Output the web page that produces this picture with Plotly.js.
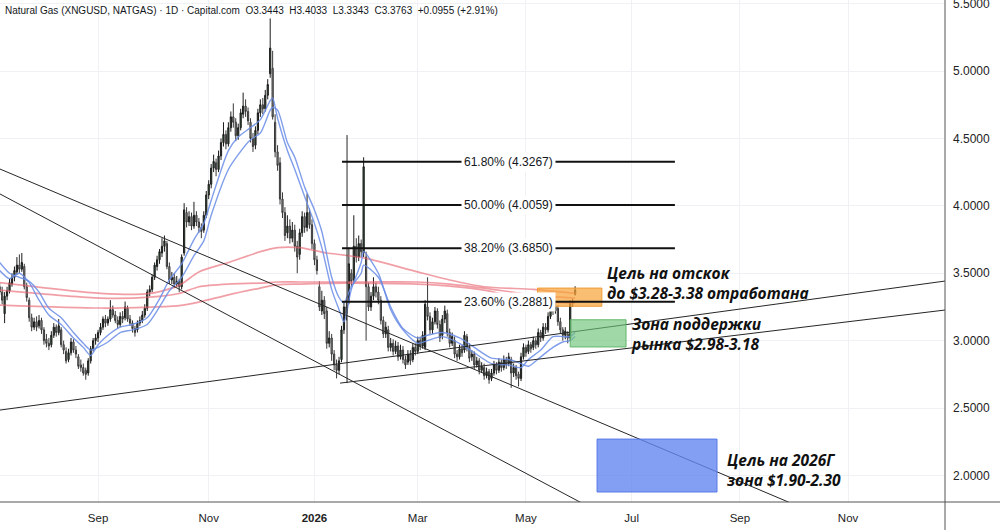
<!DOCTYPE html>
<html><head><meta charset="utf-8">
<script src="https://cdn.plot.ly/plotly-3.0.1.min.js"></script>
<style>html,body{margin:0;padding:0;background:#fff}#chart{width:1000px;height:530px}</style>
</head><body><div id="chart"></div>
<script>
// ---- data (daily candles, weekdays from startDate) ----
const startDate = '2025-07-07';
const openP = [
3.40,3.36,3.20,3.33,3.37,3.42,3.47,3.51,3.56,3.53,
3.55,3.40,3.30,3.17,3.10,3.14,3.11,3.15,3.08,3.01,
2.98,2.97,3.04,3.10,3.06,3.08,2.97,2.92,2.86,2.91,
2.99,2.93,2.88,2.82,2.80,2.78,2.76,2.85,2.94,3.00,
3.02,3.06,3.10,3.16,3.13,3.16,3.23,3.19,3.15,3.12,
3.18,3.17,3.24,3.16,3.13,3.09,3.08,3.13,3.15,3.19,
3.24,3.36,3.38,3.47,3.55,3.60,3.65,3.70,3.72,3.55,
3.45,3.47,3.42,3.44,3.40,3.65,3.95,3.88,3.92,3.85,
3.93,3.88,3.84,3.82,3.93,4.08,4.16,4.28,4.32,4.27,
4.37,4.47,4.53,4.46,4.58,4.66,4.62,4.52,4.58,4.68,
4.74,4.70,4.62,4.50,4.45,4.56,4.69,4.75,4.72,4.82,
4.98,5.02,4.62,4.40,4.32,4.05,3.95,3.80,3.85,3.76,
3.82,3.70,3.64,3.80,3.92,3.84,3.95,3.86,3.72,3.60,
3.40,3.22,3.30,3.22,2.98,3.02,2.90,2.82,2.78,2.86,
3.08,3.25,3.30,3.50,3.45,3.70,3.62,3.72,3.65,3.62,
3.40,3.25,3.33,3.40,3.36,3.30,3.15,3.05,3.08,2.95,
2.98,2.92,2.96,2.88,2.93,2.86,2.84,2.90,2.86,2.95,
2.92,3.00,2.96,2.95,3.25,3.18,3.08,3.14,3.22,3.12,
3.04,3.16,3.20,3.06,2.98,3.00,2.90,2.88,2.94,2.93,
3.03,2.95,2.88,2.90,2.82,2.85,2.78,2.80,2.74,2.77,
2.72,2.76,2.82,2.78,2.84,2.80,2.86,2.83,2.86,2.76,
2.80,2.75,2.72,2.88,2.95,2.92,2.97,2.95,3.00,2.97,
3.06,3.02,3.10,3.08,3.18,3.25,3.22,3.24,3.14,3.08,
3.04,3.05,3.02,3.28,3.3443];
const highP = [
3.43,3.40,3.36,3.40,3.46,3.50,3.55,3.62,3.64,3.65,
3.57,3.43,3.32,3.20,3.17,3.18,3.19,3.17,3.10,3.05,
3.02,3.07,3.13,3.12,3.16,3.10,3.00,2.95,2.94,3.02,
3.01,2.96,2.90,2.86,2.83,2.80,2.87,2.96,3.02,3.05,
3.08,3.13,3.18,3.19,3.18,3.30,3.26,3.22,3.18,3.21,
3.22,3.29,3.26,3.19,3.15,3.11,3.15,3.18,3.22,3.27,
3.38,3.41,3.49,3.58,3.63,3.68,3.76,3.78,3.74,3.58,
3.51,3.50,3.48,3.46,3.64,4.02,3.99,3.96,3.95,4.03,
3.96,3.91,3.87,3.96,4.11,4.19,4.31,4.38,4.35,4.41,
4.50,4.62,4.56,4.62,4.70,4.76,4.65,4.61,4.72,4.84,
4.79,4.73,4.65,4.54,4.59,4.72,4.79,4.80,4.86,4.94,
5.39,5.15,4.68,4.45,4.36,4.10,3.99,3.93,3.90,3.88,
3.86,3.74,3.83,3.96,3.95,4.09,3.98,3.90,3.75,3.63,
3.44,3.37,3.33,3.25,3.07,3.05,2.93,2.86,2.88,3.11,
3.28,3.30,3.69,3.53,3.93,3.76,3.78,3.75,4.36,3.66,
3.43,3.36,3.47,3.43,3.40,3.33,3.18,3.14,3.11,3.02,
3.01,3.00,2.99,2.97,2.96,2.89,2.93,2.93,2.98,2.98,
3.03,3.03,3.07,3.30,3.47,3.21,3.17,3.25,3.24,3.15,
3.19,3.26,3.23,3.09,3.06,3.03,2.93,2.97,2.97,3.07,
3.05,2.98,2.93,2.92,2.88,2.87,2.84,2.83,2.80,2.79,
2.79,2.85,2.84,2.87,2.86,2.89,2.88,2.91,2.88,2.83,
2.82,2.77,2.91,2.98,2.97,3.00,2.99,3.03,3.02,3.09,
3.08,3.13,3.13,3.21,3.28,3.29,3.29,3.26,3.17,3.10,
3.10,3.07,3.30,3.31,3.4033];
const lowP = [
3.34,3.27,3.13,3.30,3.35,3.40,3.44,3.49,3.50,3.51,
3.38,3.29,3.14,3.07,3.08,3.07,3.09,3.05,2.97,2.95,
2.93,2.95,3.02,3.03,3.04,2.95,2.90,2.83,2.84,2.89,
2.91,2.87,2.79,2.77,2.74,2.71,2.74,2.83,2.92,2.97,
2.99,3.04,3.08,3.10,3.11,3.14,3.17,3.13,3.09,3.10,
3.13,3.15,3.14,3.11,3.06,3.03,3.06,3.11,3.13,3.17,
3.22,3.33,3.36,3.45,3.52,3.57,3.62,3.66,3.53,3.42,
3.42,3.39,3.40,3.36,3.38,3.63,3.84,3.85,3.82,3.83,
3.85,3.80,3.76,3.80,3.91,4.05,4.13,4.25,4.22,4.25,
4.34,4.44,4.42,4.44,4.55,4.58,4.48,4.49,4.56,4.65,
4.66,4.60,4.47,4.40,4.42,4.53,4.66,4.68,4.70,4.79,
4.95,4.64,4.36,4.26,4.01,3.91,3.74,3.76,3.72,3.73,
3.66,3.50,3.60,3.77,3.80,3.81,3.83,3.68,3.56,3.49,
3.22,3.19,3.16,2.94,2.95,2.85,2.78,2.72,2.75,2.84,
3.05,3.15,3.27,3.40,3.42,3.58,3.59,3.62,3.62,3.00,
3.22,3.22,3.30,3.32,3.27,3.12,3.02,3.02,2.92,2.92,
2.89,2.90,2.85,2.86,2.83,2.79,2.82,2.82,2.84,2.89,
2.90,2.93,2.94,2.93,3.15,3.05,3.05,3.12,3.09,2.99,
3.01,3.13,3.03,2.95,2.96,2.87,2.85,2.86,2.88,2.91,
2.92,2.84,2.85,2.79,2.80,2.75,2.76,2.71,2.72,2.68,
2.70,2.74,2.75,2.76,2.77,2.78,2.79,2.81,2.65,2.73,
2.71,2.66,2.70,2.86,2.88,2.90,2.91,2.93,2.94,2.95,
2.99,3.00,3.05,3.06,3.16,3.19,3.20,3.11,3.05,3.00,
3.01,2.98,3.00,3.25,3.3343];
const closeP = [
3.36,3.30,3.33,3.37,3.43,3.47,3.52,3.56,3.53,3.58,
3.40,3.32,3.17,3.10,3.14,3.10,3.15,3.08,3.00,2.98,
2.96,3.04,3.10,3.06,3.11,2.97,2.93,2.85,2.91,2.99,
2.93,2.90,2.81,2.80,2.76,2.75,2.85,2.94,3.00,3.02,
3.06,3.10,3.16,3.13,3.16,3.23,3.19,3.15,3.12,3.18,
3.16,3.25,3.16,3.13,3.09,3.06,3.13,3.15,3.19,3.24,
3.36,3.38,3.47,3.56,3.60,3.66,3.70,3.74,3.55,3.45,
3.47,3.42,3.44,3.40,3.62,3.97,3.88,3.92,3.85,3.93,
3.88,3.84,3.81,3.93,4.08,4.16,4.28,4.33,4.27,4.37,
4.47,4.53,4.46,4.58,4.66,4.62,4.52,4.58,4.69,4.74,
4.70,4.63,4.50,4.44,4.56,4.69,4.75,4.72,4.82,4.90,
5.17,4.66,4.40,4.30,4.05,3.95,3.78,3.85,3.76,3.82,
3.70,3.62,3.80,3.92,3.84,3.95,3.86,3.72,3.60,3.52,
3.25,3.30,3.20,2.98,3.02,2.90,2.82,2.78,2.85,3.08,
3.25,3.20,3.57,3.44,3.70,3.62,3.72,3.66,4.29,3.40,
3.25,3.33,3.40,3.36,3.30,3.15,3.05,3.10,2.95,2.98,
2.92,2.96,2.88,2.93,2.86,2.82,2.90,2.85,2.95,2.92,
3.00,2.96,3.04,3.27,3.18,3.08,3.14,3.22,3.12,3.02,
3.16,3.22,3.06,2.98,3.03,2.90,2.88,2.94,2.91,3.04,
2.95,2.87,2.90,2.82,2.85,2.78,2.81,2.74,2.77,2.71,
2.76,2.82,2.78,2.84,2.80,2.86,2.82,2.88,2.76,2.80,
2.74,2.72,2.88,2.95,2.91,2.97,2.94,3.00,2.97,3.06,
3.02,3.10,3.08,3.18,3.26,3.22,3.26,3.14,3.08,3.04,
3.07,3.02,3.28,3.2808,3.3763];

// moving averages (candle index, value)
const blueIdx = [0,4,8,12,16,20,25,30,34,37,40,44,49,54,60,65,69,74,79,83,86,93,97,102,106,110,111,113,117,120,124,128,131,135,138,140,143,147,148,154,159,164,170,174,180,187,193,200,207,212,215,220,225,229,232,234];
const blueFast = [3.52,3.46,3.50,3.43,3.30,3.19,3.12,3.02,2.95,2.89,2.97,3.04,3.10,3.12,3.17,3.31,3.45,3.57,3.75,3.87,4.04,4.41,4.51,4.58,4.64,4.78,4.80,4.65,4.41,4.27,4.07,3.87,3.69,3.38,3.23,3.14,3.38,3.58,3.66,3.50,3.23,3.08,2.98,3.00,3.03,2.98,2.91,2.83,2.82,2.80,2.86,2.93,3.03,3.03,3.03,3.06];
const blueSlow = [3.58,3.50,3.47,3.44,3.36,3.24,3.17,3.06,2.98,2.93,2.95,2.99,3.06,3.08,3.12,3.25,3.37,3.47,3.63,3.74,3.93,4.27,4.38,4.49,4.54,4.71,4.73,4.71,4.47,4.36,4.14,3.97,3.81,3.47,3.32,3.28,3.40,3.50,3.56,3.47,3.25,3.09,3.02,3.04,3.06,3.02,2.95,2.87,2.86,2.83,2.81,2.88,2.95,2.99,3.00,3.03];
const redIdx = [0,41,61,73,81,93,106,113,122,133,140,149,170,183,197,217,234];
const red1 = [3.43,3.35,3.35,3.41,3.51,3.58,3.66,3.69,3.69,3.65,3.635,3.61,3.51,3.45,3.40,3.38,3.35];
const red2 = [3.375,3.316,3.323,3.35,3.40,3.42,3.427,3.435,3.435,3.435,3.435,3.435,3.435,3.42,3.39,3.338,3.316];
const red3 = [3.264,3.242,3.249,3.26,3.286,3.34,3.39,3.415,3.42,3.425,3.427,3.425,3.42,3.405,3.375,3.294,3.279];

// ticks and labels
const xTickVals = ['2025-09-01','2025-11-03','2026-01-01','2026-03-02','2026-05-01','2026-07-01','2026-09-01','2026-11-02'];
const xTickText = ['Sep','Nov','<b>2026</b>','Mar','May','Jul','Sep','Nov'];
const yTickVals = [2.0, 2.5, 3.0, 3.5, 4.0, 4.5, 5.0, 5.5];
const yTickText = ['2.0000','2.5000','3.0000','3.5000','4.0000','4.5000','5.0000','5.5000'];
const fibLevels = [4.3267, 4.0059, 3.6850, 3.2881];
const fibLabels = ['61.80% (4.3267)','50.00% (4.0059)','38.20% (3.6850)','23.60% (3.2881)'];
const headerText = 'Natural Gas (XNGUSD, NATGAS) · 1D · Capital.com  O3.3443  H3.4033  L3.3343  C3.3763  +0.0955 (+2.91%)';
const noteTexts = ['Цель на отскок<br>до $3.28-3.38 отработана', 'Зона поддержки<br>рынка $2.98-3.18', 'Цель на 2026Г<br>зона $1.90-2.30'];

// ---- build ----
[highP, lowP, closeP].forEach(a => { if (a.length !== openP.length) throw new Error('length mismatch ' + a.length + ' vs ' + openP.length); });

function weekdays(start, n) {
  const out = [];
  const d = new Date(start + 'T00:00:00Z');
  while (out.length < n) {
    const w = d.getUTCDay();
    if (w !== 0 && w !== 6) out.push(d.toISOString().slice(0, 10));
    d.setUTCDate(d.getUTCDate() + 1);
  }
  return out;
}
const dates = weekdays(startDate, closeP.length);

const traces = [
  {type:'candlestick', x:dates, open:openP, high:highP, low:lowP, close:closeP,
   increasing:{line:{color:'#1b1b1b', width:1}, fillcolor:'#2f5d36'},
   decreasing:{line:{color:'#383838', width:1}, fillcolor:'#9b9b9b'},
   whiskerwidth:0, showlegend:false, hoverinfo:'skip'},
];
[red1, red2, red3].forEach(arr => {
  traces.push({type:'scatter', mode:'lines', x:redIdx.map(i => dates[i]), y:arr,
    line:{color:'rgba(232,100,112,0.62)', width:1.7, shape:'spline', smoothing:0.7}, hoverinfo:'skip', showlegend:false});
});
[blueFast, blueSlow].forEach(arr => {
  traces.push({type:'scatter', mode:'lines', x:blueIdx.map(i => dates[i]), y:arr,
    line:{color:'rgba(105,140,230,0.85)', width:1.4, shape:'spline', smoothing:0.7}, hoverinfo:'skip', showlegend:false});
});

const ln = (x0,y0,x1,y1,w,c) => ({type:'line', xref:'x', yref:'y', x0, y0, x1, y1, line:{color:c || '#262626', width:w || 1}});
const rect = (x0,x1,y0,y1,fill,border) => ({type:'rect', xref:'x', yref:'y', x0, x1, y0, y1, fillcolor:fill, line:{color:border, width:1}});

const fibStart = '2026-01-16 05:00', fibEnd = '2026-07-24 14:00', fibLabelX = '2026-04-21 17:00';
const shapes = [
  ln('2025-07-07 03:00', 4.273, '2026-10-05 12:00', 1.766),
  ln('2025-07-07 03:00', 4.088, '2026-06-12 02:00', 1.724),
  ln('2025-07-07 03:00', 2.485, '2026-12-25 10:00', 3.442),
  ln('2026-01-15 10:00', 2.685, '2026-12-25 10:00', 3.227),
  ln('2026-01-20 06:00', 4.525, '2026-01-20 06:00', 2.685),
  rect('2026-05-07 17:00', '2026-06-12 21:00', 3.255, 3.39, 'rgba(246,165,60,0.72)', 'rgba(240,150,40,0.9)'),
  rect('2026-05-27 00:00', '2026-06-26 17:00', 2.953, 3.155, 'rgba(110,195,120,0.65)', 'rgba(90,180,100,0.9)'),
  rect('2026-06-10 22:00', '2026-08-18 17:00', 1.877, 2.27, 'rgba(100,135,240,0.8)', 'rgba(80,115,230,0.9)'),
  {type:'line', xref:'paper', yref:'paper', x0:1, x1:1, y0:-0.06, y1:1, line:{color:'#555', width:1}},
  {type:'line', xref:'paper', yref:'paper', x0:0, x1:1.06, y0:0, y1:0, line:{color:'#555', width:1}},
];
fibLevels.forEach(v => shapes.push(ln(fibStart, v, fibEnd, v, 2, '#111')));

const boldIt = {family:"'Open Sans', 'DejaVu Sans', sans-serif", size:15.5, color:'#111', weight:'bold', style:'italic'};
const px2x = px => px / 945, px2y = py => 1 - py / 502;
const note = (s, px, py) => ({text:s, xref:'paper', yref:'paper', x:px2x(px), y:px2y(py), xanchor:'left', yanchor:'middle', align:'left', showarrow:false, font:boldIt});
const annotations = [
  {text:headerText, xref:'paper', yref:'paper', x:px2x(3), y:px2y(11), xanchor:'left', yanchor:'middle', showarrow:false,
   font:{family:"'Liberation Sans', Arial, sans-serif", size:10, color:'#131722'}},
  note(noteTexts[0], 605, 283),
  note(noteTexts[1], 629, 334),
  note(noteTexts[2], 725, 469.5),
];
fibLevels.forEach((v, k) => annotations.push({text:fibLabels[k], xref:'x', yref:'y', x:fibLabelX, y:v, showarrow:false,
  xanchor:'center', yanchor:'middle', bgcolor:'#ffffff', borderpad:2,
  font:{family:"'Liberation Sans', Arial, sans-serif", size:12, color:'#131722'}}));

const layout = {
  width:1000, height:530,
  margin:{l:0, r:55, t:0, b:28, pad:0},
  paper_bgcolor:'#ffffff', plot_bgcolor:'#ffffff',
  showlegend:false,
  xaxis:{type:'date', range:['2025-07-07 03:00','2026-12-25 10:00'],
    rangebreaks:[{pattern:'day of week', bounds:[6,1]}],
    rangeslider:{visible:false},
    tickmode:'array', tickvals:xTickVals, ticktext:xTickText,
    showgrid:true, gridcolor:'#f0f1f4', gridwidth:1, zeroline:false, showline:false,
    ticks:'', ticklabelstandoff:7, tickfont:{family:"'Liberation Sans', Arial, sans-serif", size:11.5, color:'#222'}, fixedrange:true},
  yaxis:{side:'right', range:[1.803, 5.527], tickmode:'array', tickvals:yTickVals, ticktext:yTickText,
    ticklabeloverflow:'allow',
    showgrid:true, gridcolor:'#f0f1f4', gridwidth:1, zeroline:false, showline:false,
    ticks:'', ticklabelstandoff:7, tickfont:{family:"'Liberation Sans', Arial, sans-serif", size:12, color:'#222'}, fixedrange:true},
  shapes, annotations,
};
Plotly.newPlot('chart', traces, layout, {displayModeBar:false, staticPlot:true});
</script></body></html>
